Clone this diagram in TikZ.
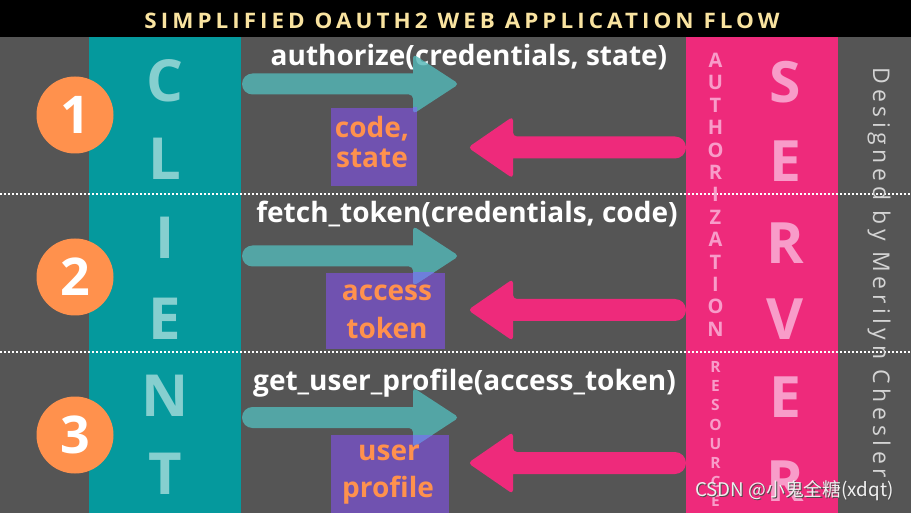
\documentclass[tikz,border=0pt]{standalone}
\usepackage{fontspec}
\usepackage{graphicx}
\setmainfont{Open Sans}
\newfontfamily\cjk{Noto Sans CJK SC}
\newfontfamily\designfont[LetterSpace=20]{Open Sans}
\newfontfamily\titlefont[LetterSpace=18]{Open Sans}
\definecolor{bggray}{HTML}{555555}
\definecolor{tealcol}{HTML}{05999D}
\definecolor{clientlt}{HTML}{86CFCF}
\definecolor{pinkc}{HTML}{EE2A7B}
\definecolor{pinklt}{HTML}{F89CC9}
\definecolor{purplebox}{HTML}{7052B0}
\definecolor{orangec}{HTML}{FF914D}
\definecolor{tealarrow}{HTML}{53B7B7}
\definecolor{overlapc}{HTML}{6E7FDB}
\definecolor{titlec}{HTML}{F9E3A0}
\definecolor{designc}{HTML}{D4D4D4}
\tikzset{
  clientletter/.style={font=\bfseries\fontsize{58}{58}\selectfont, text=clientlt},
  serverletter/.style={font=\bfseries\fontsize{57}{57}\selectfont, text=pinklt},
  authletter/.style={font=\bfseries\fontsize{20}{20}\selectfont, text=pinklt},
  resletter/.style={font=\bfseries\fontsize{15.5}{15.5}\selectfont, text=pinklt},
  numcircle/.style={circle, fill=orangec, minimum size=77pt, text=white, font=\bfseries\fontsize{52}{52}\selectfont},
  calllabel/.style={text=white, font=\bfseries\fontsize{28}{28}\selectfont, anchor=base},
  boxtext/.style={text=orangec, font=\bfseries\fontsize{28}{28}\selectfont, anchor=base},
  resultbox/.style={fill=purplebox},
  tealarr/.style={fill=tealarrow, fill opacity=0.82},
  pinkarr/.style={fill=pinkc},
  divider/.style={white, line width=1.6pt, dash pattern=on 1.6pt off 2.4pt},
  wmstyle/.style={anchor=base west, font=\cjk\fontsize{18.8}{18.8}\selectfont},
}
\newcommand\tealpath[1]{(413,#1-10.5) [rounded corners=4pt] -- (413,#1-30) -- (459,#1) -- (413,#1+30) -- (413,#1+10.5) [sharp corners] -- (252.5,#1+10.5) arc[start angle=270, end angle=90, radius=10.5pt] -- cycle}
\newcommand\pinkpath[1]{(513,#1+11) [rounded corners=4pt] -- (513,#1+31) -- (468,#1) -- (513,#1-31) -- (513,#1-11) [sharp corners] -- (675,#1-11) arc[start angle=90, end angle=-90, radius=11pt] -- cycle}
\begin{document}
\begin{tikzpicture}[x=1pt,y=-1pt, every node/.style={inner sep=0pt, outer sep=0pt}]
\useasboundingbox (0,0) rectangle (911,513);
% background and bands
\fill[bggray] (0,0) rectangle (911,513);
\fill[black] (0,0) rectangle (911,37);
\fill[tealcol] (89,37) rectangle (241,513);
\fill[pinkc] (686,37) rectangle (838,513);
\node[text=titlec, anchor=center] (title) at (462,20.5) {\resizebox{635pt}{15.5pt}{\titlefont\bfseries SIMPLIFIED OAUTH2 WEB APPLICATION FLOW}};
% dividers
\draw[divider] (0,194) -- (911,194);
\draw[divider] (0,352) -- (911,352);
% step circles
\node[numcircle] (n1) at (75,115) {1};
\node[numcircle] (n2) at (75,277) {2};
\node[numcircle] (n3) at (75,435) {3};
% CLIENT
\foreach \l/\y [count=\i] in {C/81,L/159,I/237.5,E/319,N/396,T/474}
  \node[clientletter] (client\i) at (165,\y) {\l};
% SERVER
\foreach \l/\y [count=\i] in {S/82,E/161,R/243,V/319,E/397.5,R/481}
  \node[serverletter] (server\i) at (785,\y) {\l};
% AUTHORIZATION RESOURCE
\foreach \l [count=\i from 0] in {A,U,T,H,O,R,I,Z,A,T,I,O,N}
  \node[authletter] (auth\i) at (715.5,{60.3+22.4*\i}) {\l};
\foreach \l [count=\i from 0] in {R,E,S,O,U,R,C,E}
  \node[resletter] (res\i) at (715.5,{367+19.2*\i}) {\l};
% designer credit
\node[rotate=-90, anchor=base, text=designc, font=\designfont\fontsize{23}{23}\selectfont] (design) at (873,273) {Designed by Merilyn Chesler};
% call labels
\node[calllabel] (call1) at (469,66) {authorize(credentials, state)};
\node[calllabel] (call2) at (467,223) {fetch\_token(credentials, code)};
\node[calllabel] (call3) at (464.5,390) {get\_user\_profile(access\_token)};
% result boxes
\fill[resultbox] (331,108) rectangle (417,186);
\fill[resultbox] (326,273) rectangle (445,349);
\fill[resultbox] (331,435) rectangle (449,513);
% teal request arrows
\fill[tealarr] \tealpath{84};
\fill[tealarr] \tealpath{256};
\fill[tealarr] \tealpath{417.5};
\begin{scope}
  \clip (331,108) rectangle (417,186);
  \fill[overlapc] \tealpath{84};
\end{scope}
\begin{scope}
  \clip (326,273) rectangle (445,349);
  \fill[overlapc] \tealpath{256};
\end{scope}
\begin{scope}
  \clip (331,435) rectangle (449,513);
  \fill[overlapc] \tealpath{417.5};
\end{scope}
% box texts
\node[boxtext] (r1a) at (372,138) {code,};
\node[boxtext] (r1b) at (372,168) {state};
\node[boxtext] (r2a) at (387,301) {access};
\node[boxtext] (r2b) at (387,338) {token};
\node[boxtext] (r3a) at (389,460) {user};
\node[boxtext] (r3b) at (388,497) {profile};
% pink response arrows
\fill[pinkarr] \pinkpath{147.5};
\fill[pinkarr] \pinkpath{310};
\fill[pinkarr] \pinkpath{463};
% watermark
\node[wmstyle, text=black!70] (wmshadow) at (696.2,497.2) {CSDN @小鬼全糖(xdqt)};
\node[wmstyle, text=white!88!gray] (wm) at (695,496) {CSDN @小鬼全糖(xdqt)};
\end{tikzpicture}
\end{document}
